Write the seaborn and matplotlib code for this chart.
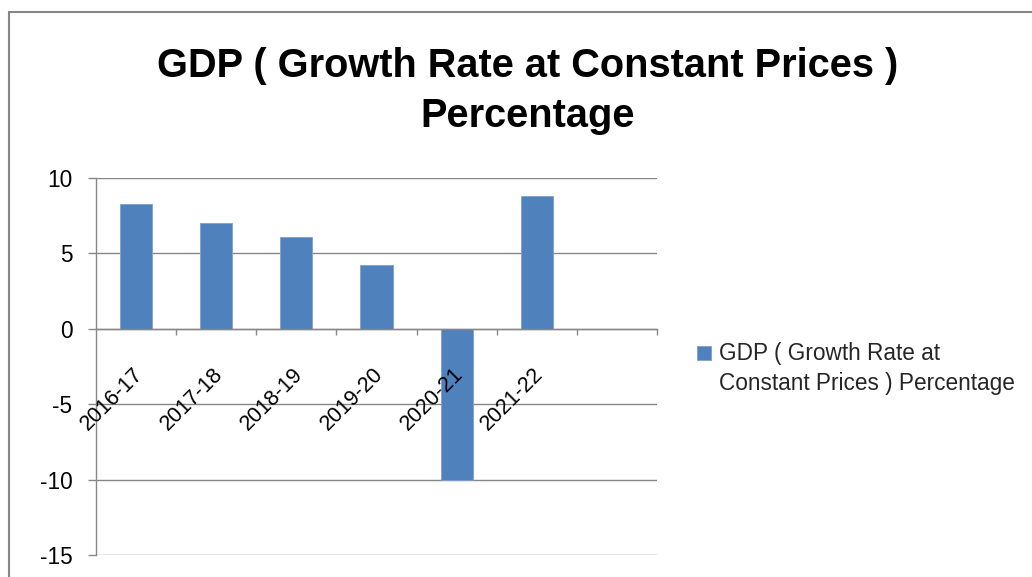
import matplotlib
matplotlib.use("Agg")
import matplotlib.pyplot as plt
import matplotlib.transforms as mtransforms
from matplotlib.patches import Rectangle
from matplotlib.legend_handler import HandlerPatch
from matplotlib.ticker import FixedLocator
import seaborn as sns
import pandas as pd

# GDP growth by fiscal year
years = ["2016-17", "2017-18", "2018-19", "2019-20", "2020-21", "2021-22"]
growth = [8.3, 7.0, 6.1, 4.2, -10.0, 8.8]
series_name = "GDP ( Growth Rate at\nConstant Prices ) Percentage"
title_text = "GDP ( Growth Rate at Constant Prices )\nPercentage"
y_ticks = [-15, -10, -5, 0, 5, 10]

BAR_BLUE = "#4F81BD"
GRID_GRAY = "#878787"

sns.set_style("white")
plt.rcParams["font.family"] = ["Liberation Sans", "DejaVu Sans"]
plt.rcParams["axes.unicode_minus"] = False

df = pd.DataFrame({"year": years, "growth": growth})

fig = plt.figure(figsize=(10.32, 5.77), dpi=100)
ax = fig.add_axes([96 / 1032, 1 - 555 / 577, (657 - 96) / 1032, (555 - 178) / 577])

# horizontal gridlines sit beneath the bars; axis labels go on top of them
for yv in y_ticks:
    ax.axhline(yv, color=GRID_GRAY, linewidth=1.0, zorder=0.5)

sns.barplot(data=df, x="year", y="growth", color=BAR_BLUE, saturation=1,
            width=0.4, edgecolor="#7F9FCF", linewidth=0.6, ax=ax,
            label=series_name, legend=False, zorder=1.5)

# one spare category slot on the right, as in a fixed-width category axis
ax.set_xlim(-0.5, len(years) + 0.5)
ax.set_ylim(-15, 10)
ax.set_yticks(y_ticks)
ax.set_xlabel("")
ax.set_ylabel("")
ax.grid(False)
ax.set_axisbelow(False)

for side in ("top", "right"):
    ax.spines[side].set_visible(False)
ax.spines["left"].set_color(GRID_GRAY)
ax.spines["left"].set_linewidth(1.0)
ax.spines["bottom"].set_position(("data", 0))
ax.spines["bottom"].set_color(GRID_GRAY)
ax.spines["bottom"].set_linewidth(1.0)

# category boundary ticks below the zero line
ax.xaxis.set_minor_locator(FixedLocator([i + 0.5 for i in range(len(years) + 1)]))
ax.tick_params(axis="x", which="minor", direction="out", length=4, width=1.0,
               color=GRID_GRAY, bottom=True)
ax.tick_params(axis="x", which="major", length=0, pad=25, labelsize=15.5,
               labelcolor="black")
ax.tick_params(axis="y", which="major", direction="out", length=5.5, width=1.0,
               color=GRID_GRAY, left=True, pad=11.5, labelsize=16.3,
               labelcolor="black")

shift = mtransforms.ScaledTranslation(-4 / 100, 0, fig.dpi_scale_trans)
for lab in ax.get_xticklabels():
    lab.set_rotation(45)
    lab.set_ha("right")
    lab.set_va("top")
    lab.set_rotation_mode("anchor")
    lab.set_transform(lab.get_transform() + shift)

fig.text(528 / 1032, 1 - 91 / 577, title_text, ha="center", va="center",
         fontsize=28.6, fontweight="bold", color="black", linespacing=1.43)


def square_on_first_line(legend, orig_handle, xdescent, ydescent, width,
                         height, fontsize):
    return Rectangle((-xdescent, 12.7), 10, 10)


bar_handle = ax.patches[0]
leg = fig.legend([bar_handle], [series_name], loc="upper left",
                 bbox_to_anchor=(697 / 1032, 1 - 342 / 577), frameon=False,
                 fontsize=16.3, handlelength=0.61, handletextpad=0.35,
                 borderpad=0, borderaxespad=0,
                 handler_map={bar_handle: HandlerPatch(patch_func=square_on_first_line)})
for t in leg.get_texts():
    t.set_linespacing(1.38)

# outer chart-area frame
fig.patches.append(Rectangle((9 / 1032, -0.2), 2, 1.2 - 12 / 577, fill=False,
                             edgecolor=GRID_GRAY, linewidth=1.5,
                             transform=fig.transFigure, figure=fig))

fig.savefig("out.png", dpi=100)
